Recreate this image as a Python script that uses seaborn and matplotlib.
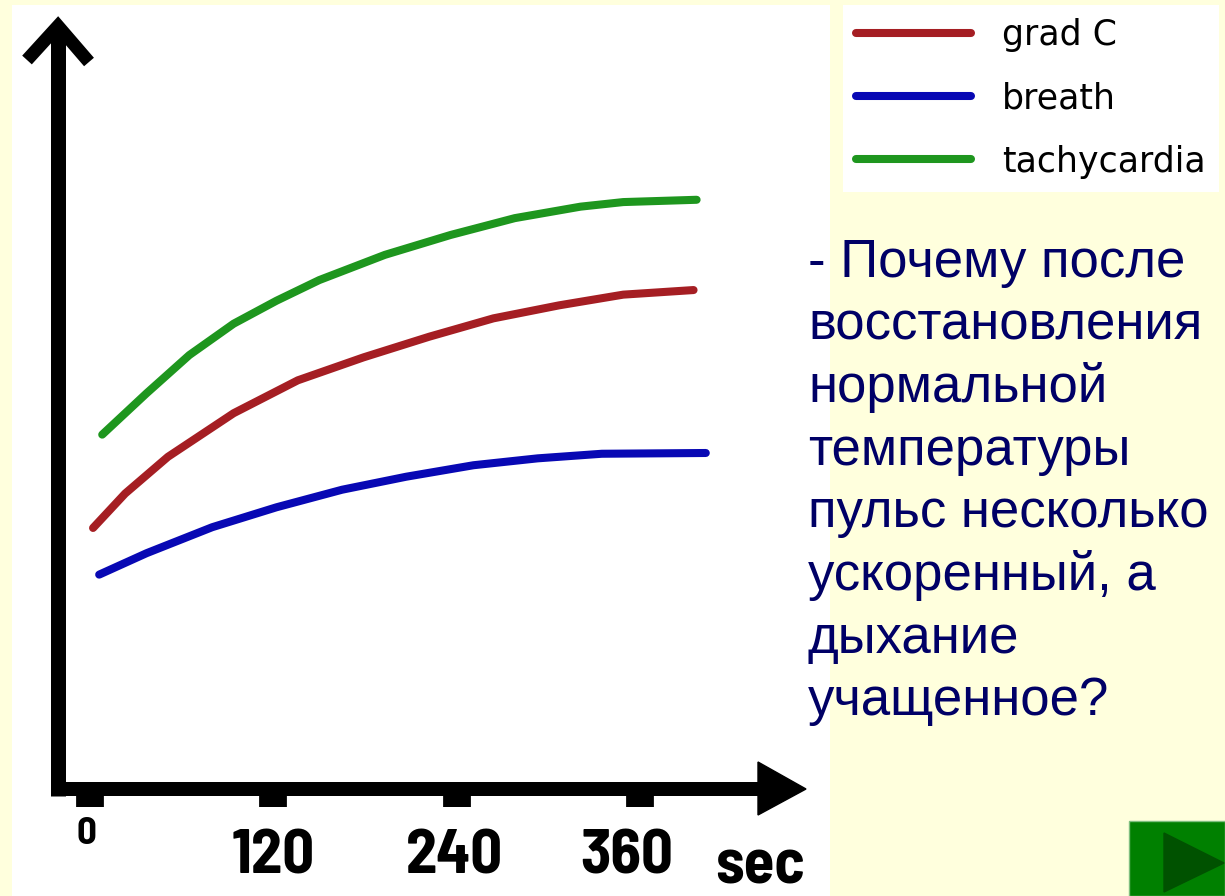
import matplotlib
matplotlib.use("Agg")
import matplotlib.pyplot as plt
from matplotlib.lines import Line2D
from matplotlib.patches import Polygon, Rectangle
from matplotlib.transforms import ScaledTranslation
import numpy as np
import pandas as pd
import seaborn as sns

# ---------------- data ----------------
series_names = ["grad C", "breath", "tachycardia"]
series_colors = ["#A51E23", "#0808B4", "#1E961E"]

time_grad = [2, 23, 51, 94, 136, 179, 222, 264, 307, 349, 395]
grad_c = [33.6, 38.1, 42.9, 48.6, 52.9, 55.9, 58.6, 61.0, 62.7, 64.1, 64.7]

time_breath = [6, 37, 80, 122, 165, 207, 251, 293, 335, 403]
breath = [27.5, 30.3, 33.7, 36.3, 38.6, 40.3, 41.8, 42.7, 43.3, 43.4]

time_tachy = [8, 37, 65, 94, 122, 150, 193, 236, 278, 321, 349, 397]
tachycardia = [45.8, 51.2, 56.2, 60.3, 63.3, 66.0, 69.3, 71.9, 74.1, 75.6, 76.2, 76.5]

x_ticks = [0, 120, 240, 360]
x_tick_labels = ["0", "120", "240", "360"]
x_label = "sec"

question_lines = [
    "- Почему после",
    "восстановления",
    "нормальной",
    "температуры",
    "пульс несколько",
    "ускоренный, а",
    "дыхание",
    "учащенное?",
]

# ---------------- figure ----------------
W, H = 1225, 896
sns.set_theme(style="white")
plt.rcParams["font.family"] = ["DejaVu Sans"]

BG = "#FFFFDD"
fig = plt.figure(figsize=(W / 100, H / 100), dpi=100, facecolor=BG)

def fx(px):
    return px / W

def fy(py):
    return 1 - py / H

# white chart panel
ax = fig.add_axes([fx(12), 0, (830 - 12) / W, (896 - 5) / H])
ax.set_facecolor("white")

df = pd.concat([
    pd.DataFrame({"sec": time_grad, "value": grad_c, "series": "grad C"}),
    pd.DataFrame({"sec": time_breath, "value": breath, "series": "breath"}),
    pd.DataFrame({"sec": time_tachy, "value": tachycardia, "series": "tachycardia"}),
], ignore_index=True)

sns.lineplot(data=df, x="sec", y="value", hue="series", hue_order=series_names,
             palette=dict(zip(series_names, series_colors)), linewidth=5.8,
             sort=False, estimator=None, ax=ax)
for ln in ax.get_lines():
    ln.set_solid_capstyle("round")
    ln.set_solid_joinstyle("round")

# pixel -> data mapping of the original picture
px_per_sec = 1.528
x0_px = 90
px_per_unit = 7.65
y0_px = 785
ax.set_xlim((12 - x0_px) / px_per_sec, (830 - x0_px) / px_per_sec)
ax.set_ylim((y0_px - 896) / px_per_unit, (y0_px - 5) / px_per_unit)

for s in ax.spines.values():
    s.set_visible(False)
ax.spines["bottom"].set_position(("data", (y0_px - 789) / px_per_unit))
ax.set_yticks([])
ax.set_ylabel("")

narrow = ["Barlow Semi Condensed", "DejaVu Sans"]
ax.set_xticks(x_ticks)
ax.set_xticklabels(x_tick_labels)
ax.tick_params(axis="x", direction="out", length=13, width=20, color="black",
               pad=16, labelsize=45, labelcolor="black", bottom=True)
for lab in ax.get_xticklabels():
    lab.set_fontfamily(narrow)
    lab.set_fontweight("bold")
offsets = {"0": (-4, 12), "120": (0, 0), "240": (-2, 0), "360": (-13, 0)}
for lab in ax.get_xticklabels():
    t = lab.get_text()
    if t == "0":
        lab.set_fontsize(28)
    dx, dy = offsets.get(t, (0, 0))
    lab.set_transform(lab.get_transform() + ScaledTranslation(dx / 100, dy / 100, fig.dpi_scale_trans))

ax.set_xlabel(x_label, fontsize=45, fontweight="bold", family=narrow, color="black")
ax.xaxis.set_label_coords((760 - 12) / 818, (896 - 883) / 891)
ax.xaxis.label.set_va("baseline")

# axis arrows (decoration, in pixel coords of the figure)
def fig_line(xs, ys, lw_px, **kw):
    fig.add_artist(Line2D([fx(v) for v in xs], [fy(v) for v in ys],
                          transform=fig.transFigure, color="black",
                          linewidth=lw_px * 0.72, **kw))

fig_line([58, 58], [796, 26], 15, solid_capstyle="butt")
fig_line([51, 766], [789, 789], 14, solid_capstyle="butt")
fig_line([27, 58, 89], [60, 26, 62], 13, solid_capstyle="butt", solid_joinstyle="miter")
fig.add_artist(Polygon([(fx(758), fy(762)), (fx(806), fy(789)), (fx(758), fy(815))],
                       closed=True, transform=fig.transFigure, color="black"))

# legend
handles, labels = ax.get_legend_handles_labels()
for h in handles:
    h.set_linewidth(5.8)
    h.set_solid_capstyle("round")
leg = ax.legend(handles, labels, loc="upper left",
                bbox_to_anchor=(fx(843), fy(5)), bbox_transform=fig.transFigure,
                frameon=True, facecolor="white", edgecolor="none", fancybox=False,
                framealpha=1, fontsize=25, handlelength=3.3, handletextpad=0.9,
                labelspacing=0.84, borderpad=0.38, borderaxespad=0)
for t in leg.get_texts():
    t.set_color("black")

# question text
for i, line in enumerate(question_lines):
    fig.text(fx(808), fy(277 + 62.6 * i), line, fontsize=38,
             family=["Liberation Sans", "DejaVu Sans"], color="#000066",
             ha="left", va="baseline")

# green navigation button
fig.add_artist(Rectangle((fx(1129), 0), fx(1225 - 1129), fy(821),
                         transform=fig.transFigure, facecolor="#008000",
                         edgecolor="#7FBF7F", linewidth=1))
fig.add_artist(Polygon([(fx(1164), fy(833)), (fx(1224), fy(863)), (fx(1164), fy(892))],
                       closed=True, transform=fig.transFigure, color="#005200"))

fig.savefig("out.png", dpi=100, facecolor=BG)
